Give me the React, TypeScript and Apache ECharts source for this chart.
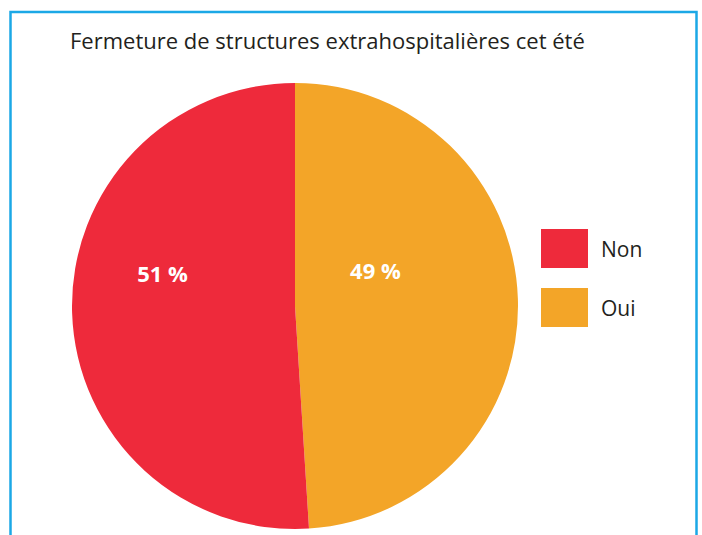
import React, { useEffect, useRef } from "react";
import * as echarts from "echarts";

const title = "Fermeture de structures extrahospitalières cet été";
const categories = ["Oui", "Non"];
const values = [49, 51];
const legendOrder = ["Non", "Oui"];
const colors = ["#F3A528", "#EE2A3B"];

export default function App() {
  const ref = useRef<HTMLDivElement>(null);
  useEffect(() => {
    const chart = echarts.init(ref.current!, null, { renderer: "svg" });
    const labelShift: Record<number, [number, number]> = {
      0: [-34, -32],
      1: [-18, -37],
    };
    chart.setOption({
      animation: false,
      backgroundColor: "#ffffff",
      title: {
        text: title,
        left: 70,
        top: 29,
        padding: 0,
        textStyle: {
          fontFamily: "Open Sans",
          fontSize: 22,
          fontWeight: "normal",
          color: "#231F20",
        },
      },
      legend: {
        data: legendOrder,
        orient: "vertical",
        left: 541,
        top: 229,
        padding: 0,
        itemWidth: 47,
        itemHeight: 39,
        itemGap: 20,
        icon: "rect",
        textStyle: {
          fontFamily: "Open Sans",
          fontSize: 21,
          color: "#231F20",
          padding: [0, 0, 0, 8],
        },
      },
      graphic: [
        {
          type: "rect",
          shape: { x: 10.5, y: 12, width: 686, height: 600 },
          style: { fill: "none", stroke: "#1BA8E6", lineWidth: 2.5 },
          silent: true,
        },
      ],
      series: [
        {
          type: "pie",
          center: [295, 306],
          radius: [0, 223],
          startAngle: 90,
          clockwise: true,
          data: categories.map((c, i) => ({
            name: c,
            value: values[i],
            itemStyle: { color: colors[i] },
          })),
          label: {
            show: true,
            position: "inside",
            formatter: (p: any) => `${p.value} %`,
            color: "#ffffff",
            fontFamily: "Open Sans",
            fontWeight: "bold",
            fontSize: 22,
          },
          labelLine: { show: false },
          labelLayout: (p: any) => {
            const s = labelShift[p.dataIndex] || [0, 0];
            return { dx: s[0], dy: s[1] };
          },
          emphasis: { disabled: true },
        },
      ],
    });
    return () => chart.dispose();
  }, []);
  return (
    <div
      ref={ref}
      style={{ position: "fixed", left: 0, top: 0, width: 702, height: 535 }}
    />
  );
}
